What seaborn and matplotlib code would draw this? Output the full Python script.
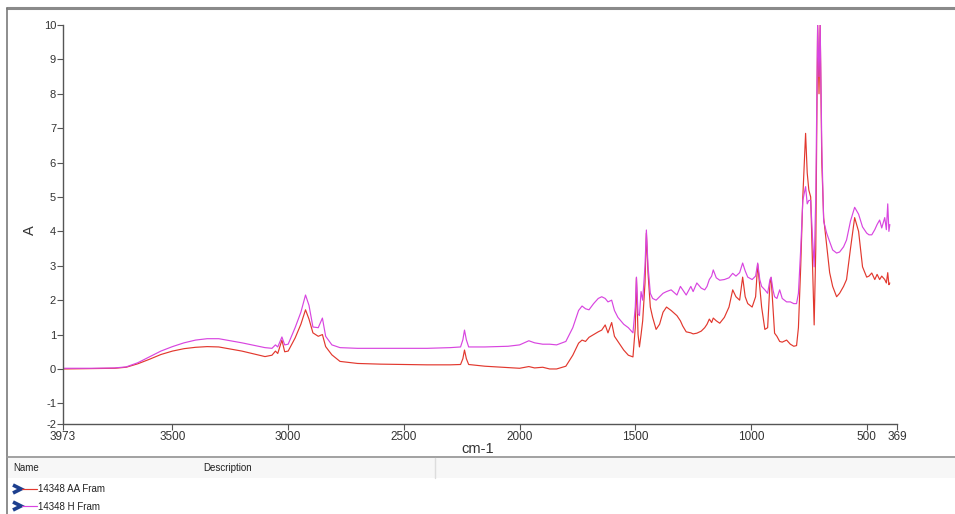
import numpy as np
import pandas as pd
import matplotlib
matplotlib.use("Agg")
import matplotlib.pyplot as plt
from matplotlib.lines import Line2D
import seaborn as sns

# ---------------- data ----------------
series_names = ["14348 AA Fram", "14348 H Fram"]
series_colors = ["#e2382e", "#d845e0"]

wavenumber = [
    3973, 3850, 3750, 3700, 3650, 3600, 3550, 3500, 3450, 3400, 3350, 3300, 3250,
    3200, 3150, 3100, 3070, 3055, 3045, 3027, 3015, 3000, 2970, 2945, 2925, 2910,
    2893, 2870, 2852, 2838, 2811, 2776, 2700, 2600, 2500, 2400, 2300, 2255, 2245,
    2238, 2230, 2220, 2150, 2050, 2000, 1960, 1935, 1900, 1870, 1840, 1800, 1770,
    1745, 1730, 1715, 1700, 1680, 1660, 1645, 1630, 1618, 1602, 1590, 1575, 1550,
    1530, 1510, 1500, 1495, 1488, 1482, 1475, 1468, 1458, 1452, 1445, 1435, 1425,
    1410, 1395, 1380, 1365, 1345, 1320, 1305, 1295, 1280, 1260, 1250, 1234, 1215,
    1200, 1190, 1180, 1170, 1163, 1150, 1135, 1115, 1095, 1079, 1065, 1049, 1036,
    1025, 1014, 995, 980, 971, 962, 954, 940, 928, 918, 913, 905, 898, 888, 876,
    865, 846, 830, 815, 803, 795, 785, 776, 764, 757, 750, 742, 734, 727, 720, 716,
    712, 706, 701, 694, 686, 673, 660, 647, 630, 617, 600, 587, 570, 552, 535, 518,
    500, 490, 478, 465, 455, 444, 435, 422, 415, 409, 404, 400,
]

absorbance_aa = [
    0.00, 0.01, 0.02, 0.05, 0.15, 0.28, 0.42, 0.52, 0.59, 0.63, 0.65, 0.64, 0.58,
    0.52, 0.44, 0.36, 0.40, 0.52, 0.45, 0.84, 0.50, 0.52, 0.90, 1.30, 1.72, 1.45,
    1.05, 0.95, 1.00, 0.65, 0.41, 0.22, 0.16, 0.14, 0.13, 0.12, 0.12, 0.13, 0.30,
    0.55, 0.30, 0.13, 0.08, 0.04, 0.02, 0.07, 0.03, 0.05, 0.00, 0.00, 0.08, 0.40,
    0.75, 0.84, 0.80, 0.92, 1.00, 1.08, 1.13, 1.28, 1.05, 1.35, 0.95, 0.80, 0.55,
    0.40, 0.35, 1.20, 2.65, 1.00, 0.64, 1.00, 1.40, 2.50, 3.95, 2.80, 1.80, 1.50,
    1.15, 1.30, 1.65, 1.80, 1.70, 1.55, 1.40, 1.25, 1.08, 1.05, 1.02, 1.04, 1.10,
    1.20, 1.30, 1.45, 1.35, 1.48, 1.40, 1.33, 1.50, 1.80, 2.30, 2.10, 2.00, 2.67,
    2.10, 1.90, 1.80, 2.10, 3.05, 2.40, 1.80, 1.15, 1.20, 2.50, 2.65, 1.80, 1.04,
    0.95, 0.80, 0.78, 0.84, 0.72, 0.66, 0.68, 1.20, 3.00, 5.00, 6.85, 5.70, 5.20,
    5.00, 3.00, 1.28, 3.50, 6.60, 10.0, 8.00, 10.0, 6.00, 4.40, 3.60, 2.80, 2.40,
    2.10, 2.20, 2.40, 2.60, 3.50, 4.40, 4.00, 2.97, 2.67, 2.70, 2.79, 2.60, 2.75,
    2.60, 2.70, 2.60, 2.50, 2.80, 2.45, 2.50,
]

absorbance_h = [
    0.02, 0.02, 0.03, 0.06, 0.18, 0.35, 0.52, 0.65, 0.76, 0.84, 0.88, 0.88, 0.82,
    0.76, 0.69, 0.62, 0.60, 0.70, 0.64, 0.93, 0.70, 0.72, 1.20, 1.65, 2.15, 1.85,
    1.22, 1.20, 1.48, 0.95, 0.70, 0.62, 0.60, 0.60, 0.60, 0.60, 0.62, 0.64, 0.85,
    1.13, 0.85, 0.64, 0.64, 0.66, 0.70, 0.82, 0.76, 0.72, 0.72, 0.70, 0.80, 1.20,
    1.70, 1.83, 1.75, 1.72, 1.90, 2.05, 2.10, 2.05, 1.95, 2.00, 1.70, 1.50, 1.30,
    1.20, 1.05, 1.80, 2.67, 1.60, 1.55, 2.25, 2.00, 3.00, 4.04, 3.00, 2.20, 2.05,
    2.00, 2.10, 2.20, 2.25, 2.30, 2.15, 2.40, 2.30, 2.15, 2.40, 2.25, 2.50, 2.35,
    2.30, 2.40, 2.60, 2.70, 2.88, 2.65, 2.58, 2.60, 2.65, 2.78, 2.70, 2.80, 3.08,
    2.85, 2.67, 2.60, 2.70, 3.08, 2.60, 2.40, 2.30, 2.20, 2.60, 2.67, 2.30, 2.10,
    2.05, 2.30, 2.05, 1.95, 1.95, 1.90, 1.90, 2.20, 3.50, 4.90, 5.30, 4.80, 4.90,
    4.90, 3.80, 2.97, 5.00, 7.50, 10.0, 8.50, 10.0, 6.50, 4.30, 3.95, 3.70, 3.46,
    3.37, 3.40, 3.55, 3.75, 4.30, 4.70, 4.50, 4.13, 3.95, 3.90, 3.90, 4.05, 4.20,
    4.33, 4.10, 4.40, 4.05, 4.80, 4.00, 4.20,
]

x_ticks = [3973, 3500, 3000, 2500, 2000, 1500, 1000, 500, 369]
x_tick_labels = ["3973", "3500", "3000", "2500", "2000", "1500", "1000", "500", "369"]
y_ticks = [-1.6, -1, 0, 1, 2, 3, 4, 5, 6, 7, 8, 9, 10]
y_tick_labels = ["-2", "-1", "0", "1", "2", "3", "4", "5", "6", "7", "8", "9", "10"]

df = pd.DataFrame({
    "wn": wavenumber * 2,
    "A": absorbance_aa + absorbance_h,
    "series": [series_names[0]] * len(wavenumber) + [series_names[1]] * len(wavenumber),
})

# ---------------- figure ----------------
sns.set_theme(style="white")
plt.rcParams["font.family"] = ["Liberation Sans", "DejaVu Sans"]

W, H = 955, 514
fig = plt.figure(figsize=(W / 100, H / 100), dpi=100)
fig.patch.set_facecolor("white")

def fx(px):
    return px / W

def fy(py):
    return 1 - py / H

ax = fig.add_axes([fx(63), fy(424), fx(897) - fx(63), fy(25) - fy(424)])
sns.lineplot(data=df, x="wn", y="A", hue="series", palette=series_colors,
             hue_order=series_names, linewidth=0.85, estimator=None, sort=False,
             ax=ax, legend=True)
handles, labels = ax.get_legend_handles_labels()
ax.get_legend().remove()

ax.set_xlim(3973, 369)
ax.set_ylim(-1.6, 10)
ax.set_xticks(x_ticks)
ax.set_xticklabels(x_tick_labels, fontsize=8.5, color="#333333")
ax.set_yticks(y_ticks)
ax.set_yticklabels(y_tick_labels, fontsize=8, color="#333333")
ax.tick_params(axis="both", direction="out", length=4, width=0.8, color="#555555", pad=1)
ax.tick_params(axis="x", bottom=True)
ax.tick_params(axis="y", left=True)
for s in ["top", "right"]:
    ax.spines[s].set_visible(False)
for s in ["left", "bottom"]:
    ax.spines[s].set_color("#555555")
    ax.spines[s].set_linewidth(1.0)
ax.set_xlabel("")
ax.set_ylabel("")
ax.grid(False)

# axis titles
fig.text(fx(478), fy(449), "cm-1", ha="center", va="center", fontsize=10.5, color="#333333")
fig.text(fx(30), fy(230), "A", ha="center", va="center", rotation=90, fontsize=10.5, color="#333333")

# window frame decorations
fig.add_artist(Line2D([fx(7), fx(955)], [fy(8), fy(8)], color="#8a8a8a", lw=2.2))
fig.add_artist(Line2D([fx(7), fx(7)], [fy(8), fy(514)], color="#7a7a7a", lw=1.2))

# lower list panel
fig.add_artist(plt.Rectangle((fx(8), fy(478)), fx(955) - fx(8), fy(457) - fy(478),
                             facecolor="#f7f7f7", edgecolor="none"))
fig.add_artist(Line2D([fx(7), fx(955)], [fy(457), fy(457)], color="#9a9a9a", lw=1.3))
fig.add_artist(Line2D([fx(435), fx(435)], [fy(458), fy(478)], color="#dddddd", lw=1.0))
fig.text(fx(13), fy(468), "Name", ha="left", va="center", fontsize=7, color="#222222")
fig.text(fx(203), fy(468), "Description", ha="left", va="center", fontsize=7, color="#222222")

# row chevrons
for py in [489, 506]:
    fig.add_artist(Line2D([fx(13), fx(21), fx(13)], [fy(py - 4), fy(py), fy(py + 4)],
                          color="#1d3f8e", lw=2.6, solid_joinstyle="miter",
                          solid_capstyle="butt"))

fig.legend(handles, labels, loc="upper left", bbox_to_anchor=(fx(22), fy(484)),
           frameon=False, fontsize=7, handlelength=1.5, handletextpad=0.15,
           labelspacing=0.78, borderpad=0, borderaxespad=0, labelcolor="#222222")

fig.savefig("out.png", dpi=100)
